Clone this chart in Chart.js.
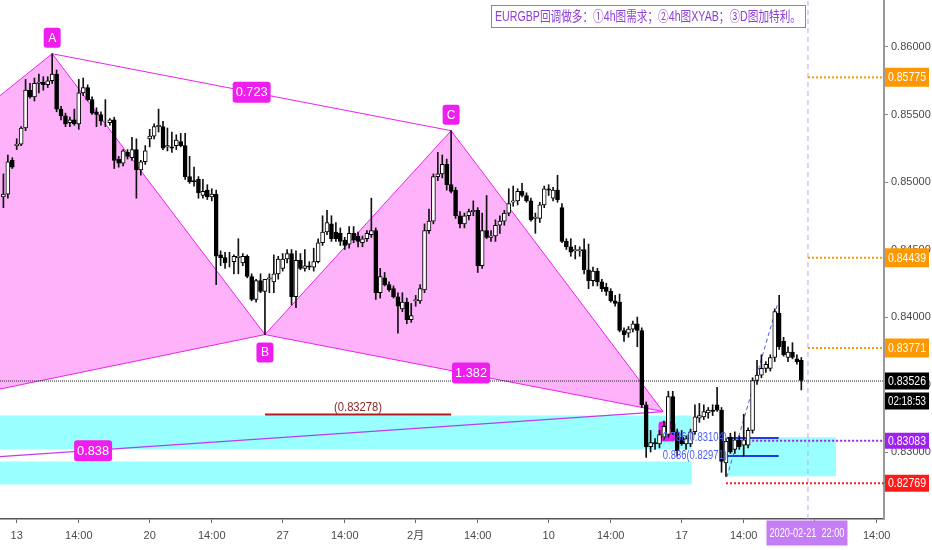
<!DOCTYPE html>
<html>
<head>
<meta charset="utf-8">
<script src="https://cdn.jsdelivr.net/npm/chart.js@4.4.1/dist/chart.umd.min.js"></script>
<style>
html, body { margin: 0; padding: 0; background: #fff; overflow: hidden; }
#wrap { width: 932px; height: 550px; }
</style>
</head>
<body>
<div id="wrap"><canvas id="c" width="932" height="550"></canvas></div>
<script>
// EURGBP 4h candles, x = bar number counted from Jan 13 06:00
const firstIdx = -3;
const opens = [
  .8489,.8491,.8516,.8527,.8528,.8540,.8568,.8563,.8573,.8574,
  .8572,.8575,.8580,.8554,.8549,.8544,.8546,.8543,.8566,.8570,
  .8561,.8552,.8550,.8545,.8544,.8546,.8517,.8514,.8522,.8518,
  .8524,.8509,.8515,.8532,.8534,.8541,.8541,.8526,.8526,.8527,
  .8530,.8527,.8504,.8501,.8502,.8490,.8494,.8489,.8491,.8446,
  .8444,.8441,.8441,.8444,.8440,.8445,.8430,.8413,.8427,.8419,
  .8428,.8426,.8432,.8436,.8443,.8447,.8415,.8442,.8436,.8438,
  .8437,.8441,.8455,.8463,.8469,.8463,.8462,.8457,.8454,.8462,
  .8460,.8455,.8458,.8461,.8464,.8418,.8429,.8424,.8421,.8415,
  .8406,.8411,.8398,.8412,.8412,.8420,.8464,.8471,.8504,.8506,
  .8513,.8498,.8494,.8475,.8469,.8475,.8478,.8479,.8438,.8464,
  .8459,.8460,.8468,.8471,.8477,.8485,.8486,.8493,.8490,.8486,
  .8473,.8473,.8483,.8495,.8488,.8494,.8481,.8456,.8452,.8449,
  .8449,.8450,.8435,.8427,.8434,.8426,.8422,.8419,.8412,.8411,
  .8390,.8388,.8391,.8395,.8390,.8335,.8304,.8307,.8306,.8311,
  .8313,.8341,.8315,.8311,.8306,.8306,.8315,.8325,.8326,.8329,
  .8331,.8335,.8331,.8292,.8311,.8302,.8309,.8305,.8305,.8316,
  .8353,.8357,.8362,.8362,.8370,.8403,.8382,.8370,.8374,.8369,
  .8368
];
const highs = [
  .8506,.8520,.8518,.8532,.8541,.8576,.8573,.8577,.8580,.8578,
  .8578,.8595,.8583,.8556,.8551,.8548,.8554,.8576,.8577,.8572,
  .8563,.8555,.8552,.8561,.8547,.8548,.8519,.8524,.8524,.8533,
  .8532,.8516,.8527,.8539,.8543,.8554,.8545,.8540,.8537,.8535,
  .8536,.8536,.8519,.8511,.8504,.8502,.8498,.8495,.8494,.8449,
  .8448,.8448,.8446,.8458,.8447,.8446,.8432,.8428,.8432,.8428,
  .8432,.8446,.8445,.8447,.8450,.8450,.8449,.8447,.8450,.8441,
  .8451,.8458,.8475,.8479,.8475,.8470,.8466,.8459,.8467,.8467,
  .8463,.8460,.8464,.8488,.8466,.8436,.8433,.8426,.8423,.8418,
  .8418,.8414,.8410,.8416,.8424,.8469,.8480,.8506,.8522,.8520,
  .8517,.8538,.8496,.8478,.8477,.8480,.8486,.8481,.8477,.8490,
  .8464,.8472,.8475,.8479,.8495,.8497,.8495,.8499,.8492,.8488,
  .8477,.8485,.8497,.8498,.8496,.8505,.8484,.8458,.8458,.8453,
  .8452,.8458,.8454,.8437,.8436,.8428,.8425,.8421,.8416,.8417,
  .8392,.8393,.8397,.8400,.8392,.8337,.8316,.8310,.8316,.8323,
  .8345,.8345,.8317,.8316,.8312,.8317,.8335,.8336,.8335,.8333,
  .8335,.8348,.8333,.8310,.8314,.8315,.8312,.8328,.8318,.8355,
  .8368,.8372,.8367,.8372,.8406,.8416,.8385,.8378,.8381,.8372,
  .8370
];
const lows = [
  .8481,.8488,.8510,.8524,.8527,.8538,.8562,.8560,.8566,.8568,
  .8570,.8573,.8552,.8546,.8541,.8541,.8542,.8539,.8564,.8560,
  .8550,.8541,.8542,.8541,.8542,.8510,.8511,.8512,.8517,.8516,
  .8488,.8505,.8513,.8526,.8532,.8537,.8524,.8523,.8522,.8524,
  .8526,.8502,.8499,.8497,.8488,.8488,.8487,.8486,.8424,.8438,
  .8436,.8437,.8432,.8432,.8438,.8429,.8412,.8411,.8418,.8387,
  .8418,.8418,.8428,.8434,.8440,.8409,.8407,.8435,.8434,.8435,
  .8434,.8440,.8453,.8461,.8456,.8456,.8453,.8450,.8451,.8455,
  .8452,.8452,.8456,.8459,.8413,.8414,.8423,.8419,.8414,.8388,
  .8404,.8395,.8396,.8408,.8410,.8418,.8462,.8469,.8501,.8503,
  .8494,.8492,.8473,.8466,.8466,.8472,.8475,.8433,.8436,.8458,
  .8456,.8456,.8462,.8468,.8475,.8482,.8483,.8489,.8485,.8471,
  .8462,.8470,.8481,.8490,.8486,.8485,.8455,.8450,.8445,.8443,
  .8445,.8432,.8421,.8423,.8423,.8419,.8416,.8411,.8408,.8389,
  .8382,.8385,.8389,.8378,.8333,.8296,.8300,.8302,.8303,.8309,
  .8311,.8313,.8297,.8305,.8302,.8304,.8313,.8322,.8324,.8325,
  .8327,.8330,.8285,.8282,.8299,.8299,.8302,.8297,.8303,.8314,
  .8350,.8355,.8359,.8360,.8367,.8376,.8371,.8367,.8369,.8365,
  .8346
];
const closes = [
  .8491,.8515,.8511,.8528,.8540,.8568,.8563,.8573,.8574,.8572,
  .8575,.8580,.8554,.8549,.8543,.8546,.8543,.8566,.8570,.8561,
  .8551,.8550,.8545,.8545,.8546,.8516,.8514,.8523,.8519,.8524,
  .8509,.8515,.8523,.8534,.8541,.8542,.8525,.8527,.8525,.8531,
  .8527,.8504,.8500,.8500,.8492,.8493,.8489,.8491,.8445,.8444,
  .8440,.8441,.8445,.8445,.8445,.8430,.8413,.8427,.8419,.8428,
  .8429,.8432,.8443,.8443,.8447,.8415,.8442,.8436,.8438,.8437,
  .8441,.8455,.8463,.8470,.8458,.8458,.8456,.8453,.8462,.8457,
  .8456,.8458,.8462,.8464,.8418,.8430,.8424,.8420,.8415,.8408,
  .8411,.8398,.8401,.8413,.8421,.8464,.8471,.8504,.8506,.8513,
  .8498,.8493,.8475,.8469,.8475,.8478,.8479,.8438,.8464,.8459,
  .8460,.8468,.8471,.8477,.8484,.8486,.8493,.8490,.8486,.8472,
  .8474,.8483,.8495,.8494,.8494,.8487,.8456,.8452,.8448,.8450,
  .8450,.8435,.8427,.8434,.8426,.8421,.8419,.8412,.8410,.8390,
  .8387,.8391,.8395,.8390,.8335,.8304,.8307,.8306,.8313,.8319,
  .8341,.8315,.8301,.8306,.8310,.8315,.8326,.8327,.8330,.8331,
  .8330,.8331,.8293,.8308,.8300,.8309,.8304,.8309,.8316,.8353,
  .8357,.8362,.8365,.8370,.8404,.8378,.8372,.8374,.8370,.8367,
  .8353
];

// x axis ticks (bar numbers) and labels
const xTickIdx = [0, 14, 30, 44, 60, 74, 90, 104, 120, 134, 150, 164, 180, 194];
const xTickLabels = ['13', '14:00', '20', '14:00', '27', '14:00', '2月', '14:00', '10', '14:00', '17', '14:00', '24', '14:00'];

// XABCD gartley
const patternNames = ['X', 'A', 'B', 'C', 'D'];
const patternIdx = [-114.5, 8, 56, 98, 145.8];
const patternPrice = [0.8272, 0.8595, 0.8387, 0.8538, 0.8330];
const ratioLabels = ['0.723', '1.382', '0.838'];

// demand zones
const zoneFrom = [-10, -10, 160.5];
const zoneTo = [152.3, 152.3, 184.8];
const zoneTop = [0.8327, 0.8293, 0.8311];
const zoneBottom = [0.8302, 0.8276, 0.8282];

// levels
const targetLevels = [0.85775, 0.84439, 0.83771];
const lastPrice = 0.83526;
const countdown = '02:18:53';
const entryLevel = 0.83083;
const stopLevel = 0.82769;
const swingLevel = 0.83278;
const swingFrom = 56, swingTo = 98;
const fibRatios = ['0.786', '0.886'];
const fibLevels = [0.83104, 0.82971];
const fibFrom = 160.2, fibTo = 171.9;
const projIdx = [160.2, 171.7];
const projPrice = [0.82815, 0.84104];
const cursorIdx = 178.5;
const cursorLabel = '2020-02-21  22:00';
const note = 'EURGBP回调做多：①4h图需求；②4h图XYAB；③D图加特利。';

// view range
const xMin = -3.77, xMax = 195.65;
const yMin = 0.82504, yMax = 0.86348;

const FONT = '"Liberation Sans", "Noto Sans CJK SC", sans-serif';
const MAGENTA = '#ee1fee';
const PINK = 'rgba(250, 0, 240, 0.3)';

const barIdx = opens.map((_, k) => firstIdx + k);
const wickData = barIdx.map((x, k) => ({ x, y: [lows[k], highs[k]] }));
const bodyData = barIdx.map((x, k) => ({ x, y: [opens[k], closes[k]] }));
const bodyFill = barIdx.map((_, k) => closes[k] >= opens[k] ? '#ffffff' : '#000000');

function pt(k) { return [patternIdx[k], patternPrice[k]]; }

function lineSet(points, color, width, dash, extra) {
  return Object.assign({
    type: 'line',
    data: points.map(p => ({ x: p[0], y: p[1] })),
    borderColor: color,
    borderWidth: width,
    borderDash: dash || [],
    pointRadius: 0,
    fill: false,
    tension: 0,
    order: 5
  }, extra || {});
}

const datasets = [];

// 존 박스
zoneFrom.forEach((f, z) => {
  const t = zoneTo[z];
  datasets.push(lineSet([[f, zoneTop[z]], [t, zoneTop[z]], [t, zoneBottom[z]], [f, zoneBottom[z]], [f, zoneTop[z]]],
    'rgba(0,0,0,0)', 0, null, { fill: 'shape', backgroundColor: 'rgba(0, 255, 255, 0.4)', order: 30 }));
});

// 패턴 삼각형
datasets.push(lineSet([pt(0), pt(1), pt(2), pt(0)], MAGENTA, 1, null, { fill: 'shape', backgroundColor: PINK, order: 20 }));
datasets.push(lineSet([pt(2), pt(3), pt(4), pt(2)], MAGENTA, 1, null, { fill: 'shape', backgroundColor: PINK, order: 20 }));
datasets.push(lineSet([pt(1), pt(3)], MAGENTA, 1, null, { order: 20 }));
datasets.push(lineSet([pt(0), pt(4)], '#b93ef0', 1.2, null, { order: 20 }));

// 수평선들
datasets.push(lineSet([[swingFrom, swingLevel], [swingTo, swingLevel]], '#b01c1c', 2));
fibLevels.forEach(v => datasets.push(lineSet([[fibFrom, v], [fibTo, v]], '#1d3cf0', 2)));
datasets.push(lineSet([[projIdx[0], projPrice[0]], [projIdx[1], projPrice[1]]], '#4d5cf5', 1, [4, 3]));
targetLevels.forEach(v => datasets.push(lineSet([[cursorIdx, v], [xMax, v]], '#ff9800', 2, [2, 2])));
datasets.push(lineSet([[165, entryLevel], [xMax, entryLevel]], '#a020f0', 2, [2, 2]));
datasets.push(lineSet([[160, stopLevel], [xMax, stopLevel]], '#ff1a1a', 2, [2, 2]));
datasets.push(lineSet([[xMin, lastPrice], [xMax, lastPrice]], '#222', 1, [1, 1], { order: 3 }));
datasets.push(lineSet([[cursorIdx, yMin], [cursorIdx, yMax]], '#c79ef5', 1, [5, 4]));

// 캔들
const WICK_SET = datasets.length;
datasets.push({
  type: 'bar', data: wickData, backgroundColor: '#111', barThickness: 1,
  grouped: false, order: 1
});
datasets.push({
  type: 'bar', data: bodyData, backgroundColor: bodyFill, borderColor: '#000',
  borderWidth: 1, borderSkipped: false, barThickness: 4, grouped: false, order: 0
});

function box(ctx, x, y, w, h, r) {
  ctx.beginPath();
  if (r && ctx.roundRect) ctx.roundRect(x, y, w, h, r); else ctx.rect(x, y, w, h);
}

// 글자가 넓으면 가로로 줄여서 맞춤
function fitText(ctx, text, x, y, maxW) {
  const w = ctx.measureText(text).width;
  const k = w > maxW ? maxW / w : 1;
  ctx.save();
  ctx.translate(x, y);
  ctx.scale(k, 1);
  ctx.fillText(text, 0, 0);
  ctx.restore();
}

function tag(ctx, text, cx, cy, w, h, bg, fg, size, r) {
  box(ctx, cx - w / 2, cy - h / 2, w, h, r);
  ctx.fillStyle = bg;
  ctx.fill();
  ctx.fillStyle = fg;
  ctx.font = size + 'px ' + FONT;
  ctx.textAlign = 'center';
  ctx.textBaseline = 'middle';
  fitText(ctx, text, cx, cy + 0.5, w - 6);
}

// 패턴 라벨 (캔들 뒤에)
function drawPatternTags(chart) {
  const ctx = chart.ctx, xs = chart.scales.x, ys = chart.scales.y;
  const px = k => xs.getPixelForValue(patternIdx[k]);
  const py = k => ys.getPixelForValue(patternPrice[k]);
  ctx.save();
  const offs = [0, -16, 18, -16, 20];
  for (let k = 1; k < patternNames.length; k++) {
    tag(ctx, patternNames[k], px(k) + (k === 4 ? 4 : 0), py(k) + offs[k], 17, 20, MAGENTA, '#fff', 12, 3);
  }
  [[1, 3], [2, 4], [0, 4]].forEach((p, j) => {
    const dx = j === 0 ? 0 : 7;
    tag(ctx, ratioLabels[j], (px(p[0]) + px(p[1])) / 2 + dx, (py(p[0]) + py(p[1])) / 2, 38, 21, MAGENTA, '#fff', 13, 3);
  });

  ctx.font = '12px ' + FONT;
  ctx.textBaseline = 'bottom';
  ctx.textAlign = 'center';
  ctx.fillStyle = '#8b2525';
  fitText(ctx, '(' + swingLevel.toFixed(5) + ')',
    (xs.getPixelForValue(swingFrom) + xs.getPixelForValue(swingTo)) / 2, ys.getPixelForValue(swingLevel) - 1, 48);
  ctx.restore();
}

// 피보나치 라벨 (캔들 위에)
function drawFibTags(chart) {
  const ctx = chart.ctx, xs = chart.scales.x, ys = chart.scales.y;
  ctx.save();
  ctx.font = '12px ' + FONT;
  ctx.textAlign = 'right';
  ctx.textBaseline = 'middle';
  ctx.fillStyle = '#4a5cf7';
  fibLevels.forEach((v, j) => {
    fitText(ctx, fibRatios[j] + '(' + v.toFixed(5) + ')', xs.getPixelForValue(fibFrom), ys.getPixelForValue(v), 64);
  });
  ctx.restore();
}

// 가격축 라벨, 시간 라벨, 메모
function drawAxisTags(chart) {
  const ctx = chart.ctx, xs = chart.scales.x, ys = chart.scales.y, area = chart.chartArea;
  const bx = area.right + 23;
  ctx.save();
  targetLevels.forEach(v => tag(ctx, v.toFixed(5), bx, ys.getPixelForValue(v), 44, 19, '#ff9800', '#fff', 13));
  const ly = ys.getPixelForValue(lastPrice);
  tag(ctx, lastPrice.toFixed(5), bx, ly, 44, 17, '#000', '#fff', 13);
  tag(ctx, countdown, bx, ly + 20, 44, 17, '#000', '#fff', 13);
  tag(ctx, entryLevel.toFixed(5), bx, ys.getPixelForValue(entryLevel), 44, 16, '#a020f0', '#fff', 13);
  tag(ctx, stopLevel.toFixed(5), bx, ys.getPixelForValue(stopLevel), 44, 17, '#ff1a1a', '#fff', 13);

  const cx = xs.getPixelForValue(cursorIdx);
  tag(ctx, cursorLabel, cx - 1, area.bottom + 14, 81, 25, '#c57df6', '#fff', 12);

  // 메모 박스
  const right = cx - 2, left = right - 315;
  ctx.fillStyle = '#fff';
  ctx.fillRect(left, 5, right - left, 23);
  ctx.strokeStyle = '#9d6ee0';
  ctx.lineWidth = 1;
  ctx.strokeRect(left + 0.5, 5.5, right - left - 1, 22);
  ctx.font = '14px ' + FONT;
  ctx.fillStyle = '#8d3fd6';
  ctx.textAlign = 'left';
  ctx.textBaseline = 'middle';
  fitText(ctx, note, left + 4, 17, right - left - 9);
  ctx.restore();
}

const overlay = {
  id: 'overlay',
  beforeDatasetDraw(chart, args) {
    if (args.index === WICK_SET) drawPatternTags(chart);
  },
  afterDatasetsDraw(chart) {
    drawFibTags(chart);
  },
  afterDraw(chart) {
    drawAxisTags(chart);
  }
};

Chart.defaults.font.family = FONT;

new Chart(document.getElementById('c'), {
  type: 'bar',
  data: { datasets },
  plugins: [overlay],
  options: {
    responsive: false,
    animation: false,
    events: [],
    layout: { padding: 0 },
    plugins: { legend: { display: false }, tooltip: { enabled: false } },
    scales: {
      x: {
        type: 'linear', min: xMin, max: xMax, offset: false,
        afterBuildTicks(s) { s.ticks = xTickIdx.map(v => ({ value: v })); },
        afterFit(s) { s.height = 31; s.paddingLeft = 0; s.paddingRight = 0; },
        ticks: {
          autoSkip: false, maxRotation: 0, minRotation: 0, padding: 6,
          color: '#4a4a4a', font: { size: 11 },
          callback: (v, i) => xTickLabels[i]
        },
        grid: { drawOnChartArea: false, offset: false, tickLength: 4, color: '#666' },
        border: { color: '#555', width: 1.5 }
      },
      y: {
        type: 'linear', position: 'right', min: yMin, max: yMax,
        afterFit(s) { s.width = 48; s.paddingTop = 0; s.paddingBottom = 0; },
        ticks: {
          stepSize: 0.005, includeBounds: false, padding: 3,
          color: '#4a4a4a', font: { size: 11 },
          callback: v => v.toFixed(5)
        },
        grid: { drawOnChartArea: false, tickLength: 4, color: '#888' },
        border: { color: '#999', width: 2 }
      }
    }
  }
});
</script>
</body>
</html>
